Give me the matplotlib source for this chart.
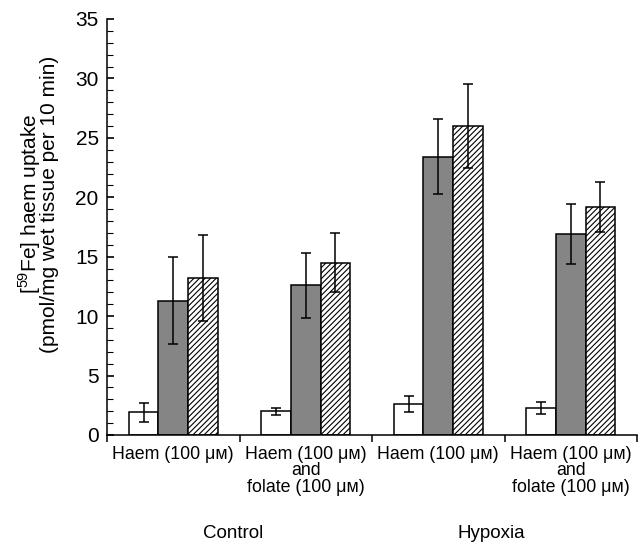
import numpy as np
import matplotlib
matplotlib.use('Agg')
import matplotlib.pyplot as plt
import matplotlib.transforms as mtransforms
from matplotlib.ticker import MultipleLocator

plt.rcParams['font.family'] = ['Liberation Sans', 'DejaVu Sans']
plt.rcParams['mathtext.fontset'] = 'custom'
plt.rcParams['mathtext.rm'] = 'Liberation Sans'
plt.rcParams['hatch.linewidth'] = 0.8

# data
group_labels = ['Haem (100 μм)', 'Haem (100 μм)\nand\nfolate (100 μм)',
                'Haem (100 μм)', 'Haem (100 μм)\nand\nfolate (100 μм)']
conditions = ['Control', 'Hypoxia']

white_vals = [1.9, 2.0, 2.6, 2.3]
white_err = [0.8, 0.3, 0.7, 0.5]
grey_vals = [11.3, 12.6, 23.4, 16.9]
grey_err = [3.65, 2.75, 3.15, 2.55]
hatch_vals = [13.2, 14.5, 26.0, 19.2]
hatch_err = [3.65, 2.5, 3.55, 2.1]

fig = plt.figure(figsize=(6.44, 5.46), dpi=100)
ax = fig.add_axes([107 / 644, 1 - 435 / 546, 530 / 644, 416 / 546])

x = np.arange(len(group_labels))
w = 0.223
lw = 1.1
err_kw = dict(fmt='none', ecolor='black', elinewidth=lw, capsize=3.3, capthick=lw, zorder=3)

ax.bar(x - w, white_vals, w, color='white', edgecolor='black', linewidth=lw)
ax.bar(x, grey_vals, w, color='#858585', edgecolor='black', linewidth=lw)
ax.bar(x + w, hatch_vals, w, color='white', edgecolor='black', hatch='//////', linewidth=lw)
ax.errorbar(x - w, white_vals, yerr=white_err, **err_kw)
ax.errorbar(x, grey_vals, yerr=grey_err, **err_kw)
ax.errorbar(x + w, hatch_vals, yerr=hatch_err, **err_kw)

ax.set_xlim(-0.5, len(group_labels) - 0.5)
ax.set_ylim(0, 35)

for side in ['top', 'right']:
    ax.spines[side].set_visible(False)
for side in ['left', 'bottom']:
    ax.spines[side].set_linewidth(lw)

# y axis
ax.set_yticks(np.arange(0, 36, 5))
ax.yaxis.set_minor_locator(MultipleLocator(1))
ax.tick_params(axis='y', which='major', direction='in', length=5, width=1.2,
               labelsize=15, pad=6)
ax.tick_params(axis='y', which='minor', direction='in', length=4, width=0.8)
ax.set_ylabel('[$^{59}$Fe] haem uptake\n(pmol/mg wet tissue per 10 min)',
              fontsize=15, linespacing=0.85)
ax.yaxis.set_label_coords(-0.09, 0.555)

# x axis: boundary ticks, labels at group centres
ax.set_xticks(np.arange(-0.5, len(group_labels), 1.0))
ax.set_xticklabels([])
ax.tick_params(axis='x', which='major', direction='out', length=5, width=lw)
ax.set_xticks(x, minor=True)
ax.set_xticklabels(group_labels, minor=True, fontsize=12.8)
ax.tick_params(axis='x', which='minor', length=0, pad=8)
for lbl in ax.get_xticklabels(minor=True):
    lbl.set_linespacing(0.95)

trans = mtransforms.blended_transform_factory(ax.transData, fig.transFigure)
for xc, name in zip([0.45, 2.4], conditions):
    ax.text(xc, 1 - 534 / 546, name, transform=trans, ha='center', va='center', fontsize=13.5)

fig.savefig('out.png', dpi=100)
